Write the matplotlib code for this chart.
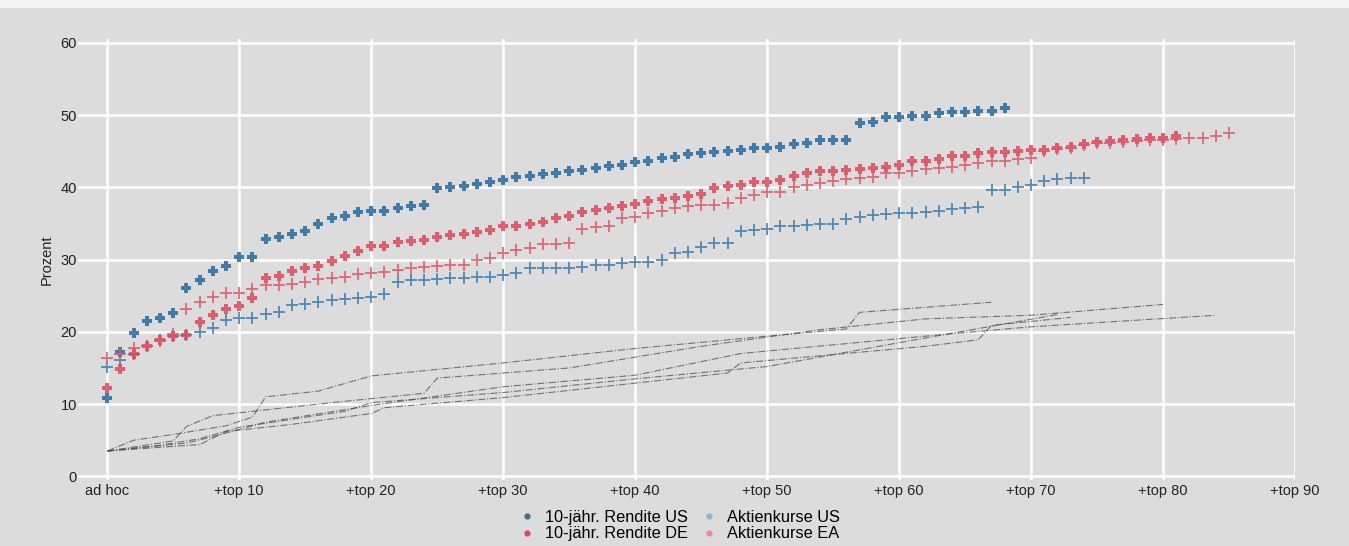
import matplotlib.pyplot as plt
from matplotlib.lines import Line2D
from matplotlib.patches import Rectangle

plt.rcParams['font.family'] = ['Liberation Sans', 'DejaVu Sans']

# Anteil in Prozent je Rang-Stufe (0 = ad hoc, 1 = +top 1, ...)
rendite_us = [10.9, 17.2, 19.9, 21.5, 21.9, 22.6, 26.1, 27.2, 28.4, 29.1,
              30.4, 30.4, 32.8, 33.2, 33.5, 33.9, 34.9, 35.8, 36.0, 36.6,
              36.7, 36.8, 37.1, 37.4, 37.6, 39.9, 40.0, 40.2, 40.5, 40.8,
              41.0, 41.4, 41.6, 41.9, 42.0, 42.3, 42.4, 42.7, 42.9, 43.1,
              43.5, 43.7, 44.0, 44.2, 44.6, 44.7, 44.9, 45.1, 45.2, 45.4,
              45.5, 45.6, 46.0, 46.1, 46.5, 46.6, 46.6, 48.9, 49.1, 49.8,
              49.8, 49.9, 49.9, 50.3, 50.4, 50.4, 50.6, 50.6, 51.0]

rendite_de = [12.25, 14.8, 16.9, 18.0, 18.9, 19.4, 19.5, 21.3, 22.4, 23.1,
              23.6, 24.7, 27.5, 27.8, 28.4, 28.9, 29.1, 29.8, 30.5, 31.2,
              31.9, 31.9, 32.5, 32.6, 32.7, 33.2, 33.4, 33.5, 33.8, 34.1,
              34.6, 34.7, 34.9, 35.2, 35.7, 36.0, 36.6, 36.9, 37.2, 37.4,
              37.7, 38.1, 38.4, 38.6, 38.8, 39.1, 39.9, 40.2, 40.3, 40.7,
              40.8, 41.0, 41.6, 42.0, 42.2, 42.3, 42.4, 42.5, 42.7, 42.8,
              43.1, 43.6, 43.7, 43.9, 44.3, 44.4, 44.7, 44.9, 44.9, 45.0,
              45.2, 45.2, 45.4, 45.6, 46.0, 46.3, 46.4, 46.5, 46.7, 46.8,
              46.9, 47.1]

aktien_us = [15.2, 16.1, 17.0, 18.0, 18.9, 19.4, 19.6, 20.0, 20.6, 21.6,
             21.9, 21.9, 22.5, 22.75, 23.7, 23.9, 24.1, 24.4, 24.6, 24.75,
             24.8, 25.3, 26.9, 27.15, 27.15, 27.25, 27.5, 27.5, 27.6, 27.6,
             27.9, 28.1, 28.8, 28.8, 28.8, 28.9, 29.0, 29.2, 29.3, 29.5,
             29.7, 29.7, 30.0, 30.9, 31.0, 31.8, 32.25, 32.25, 33.9, 34.1,
             34.2, 34.6, 34.7, 34.8, 34.9, 35.0, 35.6, 35.9, 36.2, 36.3,
             36.5, 36.5, 36.6, 36.8, 37.0, 37.1, 37.3, 39.6, 39.65, 40.0,
             40.35, 40.95, 41.1, 41.3, 41.3]

aktien_ea = [16.4, 17.0, 17.8, 18.1, 18.8, 19.75, 23.2, 24.1, 24.8, 25.4,
             25.4, 25.9, 26.5, 26.5, 26.6, 26.9, 27.25, 27.5, 27.6, 28.0,
             28.1, 28.3, 28.6, 28.8, 29.0, 29.1, 29.2, 29.3, 30.0, 30.25,
             30.9, 31.3, 31.55, 32.1, 32.1, 32.25, 34.2, 34.5, 34.65, 35.7,
             35.9, 36.4, 36.8, 37.1, 37.4, 37.6, 37.6, 37.9, 38.5, 38.95,
             39.3, 39.4, 40.1, 40.35, 40.6, 40.95, 41.1, 41.3, 41.5, 42.0,
             42.05, 42.3, 42.5, 42.7, 42.8, 43.1, 43.4, 43.6, 43.7, 43.9,
             44.05, 45.0, 45.3, 45.5, 45.8, 46.1, 46.2, 46.3, 46.4, 46.5,
             46.6, 46.7, 46.8, 46.9, 47.05, 47.5]

# graue Vergleichslinien (Knickpunkte)
ref_x = [
    [0, 2, 5, 9, 11, 12, 16, 20, 30, 40, 50, 56, 57, 67],
    [0, 5, 6, 8, 10, 17, 24, 25, 35, 45, 54, 62, 70, 80],
    [0, 6, 8, 12, 20, 30, 40, 48, 64, 70, 84],
    [0, 7, 9, 14, 20, 21, 30, 40, 47, 48, 62, 66, 67, 73],
    [0, 4, 7, 10, 18, 20, 30, 40, 50, 60, 72],
]
ref_y = [
    [3.5, 5.0, 5.8, 7.0, 8.2, 11.0, 11.8, 13.9, 15.7, 17.7, 19.4, 20.4, 22.7, 24.1],
    [3.5, 4.9, 6.9, 8.4, 8.8, 10.2, 11.5, 13.6, 15.0, 18.0, 20.3, 21.8, 22.3, 23.8],
    [3.5, 4.6, 5.5, 7.5, 9.8, 12.4, 14.0, 17.0, 19.75, 20.7, 22.3],
    [3.5, 4.4, 6.2, 7.2, 8.7, 9.5, 10.9, 12.9, 14.3, 15.7, 18.0, 18.9, 20.9, 22.0],
    [3.5, 4.3, 5.2, 6.8, 9.0, 10.2, 11.6, 13.5, 15.2, 18.5, 22.4],
]

xticks = list(range(0, 91, 10))
xlabels = ['ad hoc'] + ['+top %d' % t for t in xticks[1:]]

bg = '#dcdcdc'
fig = plt.figure(figsize=(13.49, 5.46), dpi=100, facecolor=bg)
ax = fig.add_axes([0.058, 0.121, 0.902, 0.807])
ax.set_facecolor(bg)
fig.patches.append(Rectangle((0, 0.985), 1, 0.015, transform=fig.transFigure,
                             facecolor='#f4f4f4', edgecolor='none'))

for xs, ys in zip(ref_x, ref_y):
    ax.plot(xs, ys, color='#4d4d4d', lw=0.8, ls='-.', alpha=0.75, zorder=2)

ax.plot(range(len(aktien_us)), aktien_us, ls='none', marker='+', ms=8.5, mew=1.3,
        color='#3f7fb0', alpha=0.9, zorder=3)
ax.plot(range(len(rendite_us)), rendite_us, ls='none', marker='P', ms=7, mew=0,
        color='#2f70a3', alpha=0.9, zorder=4)
ax.plot(range(len(rendite_de)), rendite_de, ls='none', marker='P', ms=7, mew=0,
        color='#e0485a', alpha=0.85, zorder=4)
ax.plot(range(len(aktien_ea)), aktien_ea, ls='none', marker='+', ms=8.5, mew=1.3,
        color='#e05a6a', alpha=0.9, zorder=5)

ax.set_xlim(-2.2, 90)
ax.set_ylim(-0.5, 60.5)
ax.set_xticks(xticks)
ax.set_xticklabels(xlabels)
ax.set_yticks(range(0, 61, 10))
ax.grid(True, color='white', lw=1.8)
ax.set_axisbelow(True)
for s in ax.spines.values():
    s.set_visible(False)
ax.tick_params(length=0, labelsize=10.5, labelcolor='#222222')
ax.tick_params(axis='x', pad=3)
ax.tick_params(axis='y', pad=1)
ax.set_ylabel('Prozent', fontsize=10.5, color='#222222', labelpad=5)

handles = [
    Line2D([], [], ls='none', marker='o', ms=3.5, color='#3d6f94'),
    Line2D([], [], ls='none', marker='o', ms=3.5, color='#e0485a'),
    Line2D([], [], ls='none', marker='o', ms=3.5, color='#8db4d2'),
    Line2D([], [], ls='none', marker='o', ms=3.5, color='#ee8a98'),
]
labels = ['10-jähr. Rendite US', '10-jähr. Rendite DE',
          'Aktienkurse US', 'Aktienkurse EA']
ax.legend(handles, labels, loc='upper center', bbox_to_anchor=(0.494, -0.05),
          ncol=2, frameon=False, fontsize=11.8, handlelength=1.0,
          handletextpad=0.6, columnspacing=0.8, labelspacing=0.08,
          borderpad=0)

fig.savefig('out.png', dpi=100, facecolor=bg)
